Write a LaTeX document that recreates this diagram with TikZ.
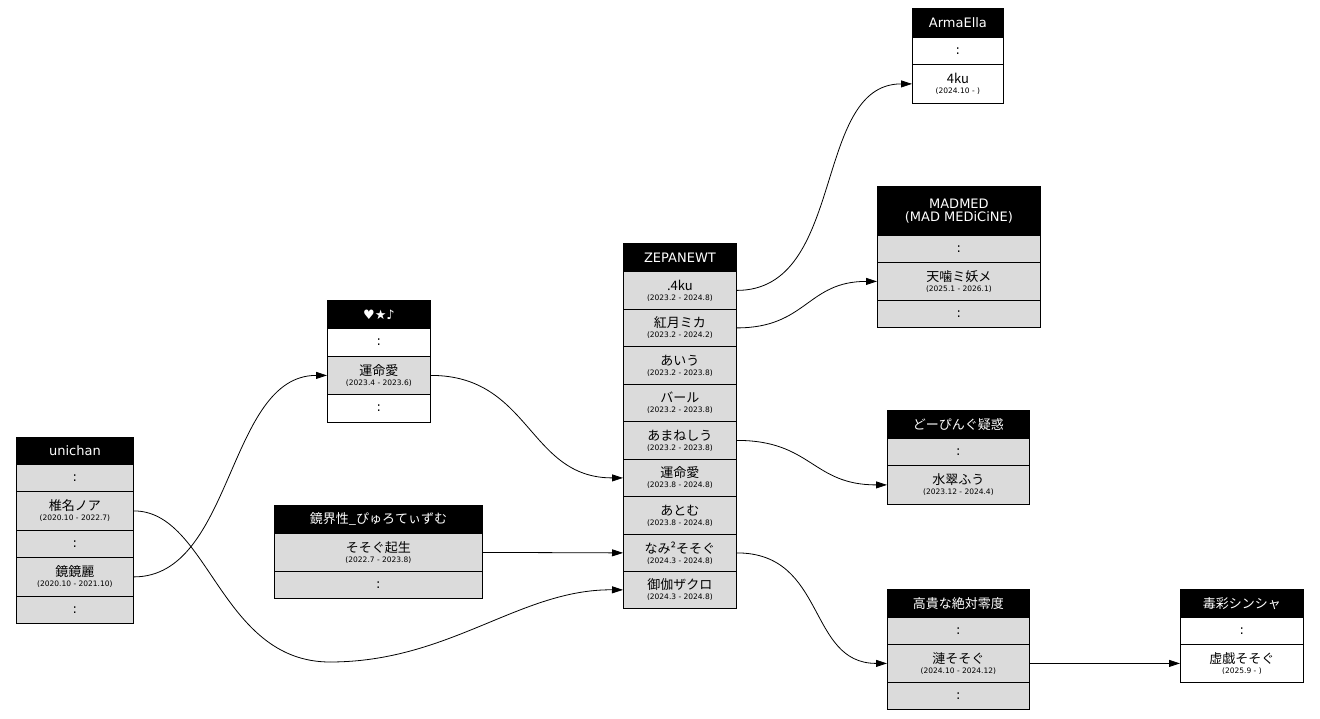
\documentclass[tikz,border=0pt]{standalone}
\usepackage{fontspec}
\setmainfont{DejaVu Sans}
\newfontfamily\cjk{Noto Sans CJK JP}
\usetikzlibrary{arrows.meta}
\colorlet{rowGray}{black!14}
\tikzset{
  cell/.style={draw,line width=0.8pt,anchor=north west,inner sep=0pt,align=center,
    font=\fontsize{13}{13}\selectfont},
  head/.style={cell,fill=black,text=white},
  link/.style={line width=0.8pt,-{Triangle[length=11pt,width=7pt]}},
}
\NewDocumentCommand\Cell{O{rowGray}mmmmmm}%
{%
\node[cell,fill=#1,minimum width={#5},minimum height={#6}] (#2) at ({#3},{#4}) {#7};%
}
\newcommand\Who[2]{{\cjk #1}\\[-3pt]{\fontsize{7.5}{8}\selectfont (#2)}}
\newcommand\Dots{:}
\begin{document}
\begin{tikzpicture}[x=1pt,y=-1pt]
\useasboundingbox (0,0) rectangle (1320,719);
% unichan
\node[head,minimum width=117,minimum height=27] (uni) at (16,437) {unichan};
\Cell{uniA}{16}{464}{117}{27}{\Dots}
\Cell{uniNoa}{16}{491}{117}{39}{\Who{椎名ノア}{2020.10 - 2022.7}}
\Cell{uniB}{16}{530}{117}{27}{\Dots}
\Cell{uniRei}{16}{557}{117}{39}{\Who{鏡鏡麗}{2020.10 - 2021.10}}
\Cell{uniC}{16}{596}{117}{27}{\Dots}
% heart star note
\node[head,minimum width=103,minimum height=28] (hsn) at (327,300) {♥★♪};
\Cell[white]{hsnA}{327}{328}{103}{28}{\Dots}
\Cell{hsnUnm}{327}{356}{103}{38}{\Who{運命愛}{2023.4 - 2023.6}}
\Cell[white]{hsnB}{327}{394}{103}{28}{\Dots}
% kyoukaisei
\node[head,minimum width=208,minimum height=28] (kks) at (274,505) {\cjk 鏡界性\_ぴゅろてぃずむ};
\Cell{kksSos}{274}{533}{208}{38}{\Who{そそぐ起生}{2022.7 - 2023.8}}
\Cell{kksA}{274}{571}{208}{27}{\Dots}
% ZEPANEWT
\node[head,minimum width=113,minimum height=28] (zep) at (623,243) {ZEPANEWT};
\Cell{zep4ku}{623}{271}{113}{38}{\Who{.4ku}{2023.2 - 2024.8}}
\Cell{zepMika}{623}{309}{113}{37}{\Who{紅月ミカ}{2023.2 - 2024.2}}
\Cell{zepAiu}{623}{346}{113}{38}{\Who{あいう}{2023.2 - 2023.8}}
\Cell{zepBaru}{623}{384}{113}{37}{\Who{バール}{2023.2 - 2023.8}}
\Cell{zepAma}{623}{421}{113}{38}{\Who{あまねしう}{2023.2 - 2023.8}}
\Cell{zepUnm}{623}{459}{113}{37}{\Who{運命愛}{2023.8 - 2024.8}}
\Cell{zepAtomu}{623}{496}{113}{38}{\Who{あとむ}{2023.8 - 2024.8}}
\Cell{zepNami}{623}{534}{113}{37}{\Who{なみ²そそぐ}{2024.3 - 2024.8}}
\Cell{zepZak}{623}{571}{113}{37}{\Who{御伽ザクロ}{2024.3 - 2024.8}}
% ArmaElla
\node[head,minimum width=91,minimum height=29] (arm) at (912,8) {ArmaElla};
\Cell[white]{armA}{912}{37}{91}{27}{\Dots}
\Cell[white]{arm4ku}{912}{64}{91}{39}{\Who{4ku}{2024.10 - }}
% MADMED
\node[head,minimum width=163,minimum height=49] (mad) at (877,186) {MADMED\\(MAD MEDiCiNE)};
\Cell{madA}{877}{235}{163}{27}{\Dots}
\Cell{madTen}{877}{262}{163}{38}{\Who{天噛ミ妖メ}{2025.1 - 2026.1}}
\Cell{madB}{877}{300}{163}{27}{\Dots}
% doping
\node[head,minimum width=142,minimum height=28] (dop) at (887,410) {\cjk どーぴんぐ疑惑};
\Cell{dopA}{887}{438}{142}{27}{\Dots}
\Cell{dopSui}{887}{465}{142}{39}{\Who{水翠ふう}{2023.12 - 2024.4}}
% kouki
\node[head,minimum width=142,minimum height=28] (kou) at (887,589) {\cjk 高貴な絶対零度};
\Cell{kouA}{887}{617}{142}{27}{\Dots}
\Cell{kouRen}{887}{644}{142}{38}{\Who{漣そそぐ}{2024.10 - 2024.12}}
\Cell{kouB}{887}{682}{142}{27}{\Dots}
% dokusai
\node[head,minimum width=123,minimum height=28] (dok) at (1180,589) {\cjk 毒彩シンシャ};
\Cell[white]{dokA}{1180}{617}{123}{27}{\Dots}
\Cell[white]{dokKyo}{1180}{644}{123}{38}{\Who{虚戯そそぐ}{2025.9 - }}
% links
\coordinate (low) at (330,662);
\draw[line width=0.8pt] (uniNoa.east) .. controls +(75,0) and (220,662) .. (low);
\draw[link] (low) .. controls (450,662) and (520,589) .. (zepZak.west);
\draw[link] (uniRei.east) .. controls +(100,0) and +(-100,0) .. (hsnUnm.west);
\draw[link] (hsnUnm.east) .. controls +(100,0) and +(-95,0) .. (zepUnm.west);
\draw[link] (kksSos.east) -- (zepNami.west);
\draw[link] (zep4ku.east) .. controls +(110,0) and +(-100,0) .. (arm4ku.west);
\draw[link] (zepMika.east) .. controls +(70,0) and +(-70,0) .. (madTen.west);
\draw[link] (zepAma.east) .. controls +(75,0) and +(-75,0) .. (dopSui.west);
\draw[link] (zepNami.east) .. controls +(90,0) and +(-80,0) .. (kouRen.west);
\draw[link] (kouRen.east) -- (dokKyo.west);
\end{tikzpicture}
\end{document}
